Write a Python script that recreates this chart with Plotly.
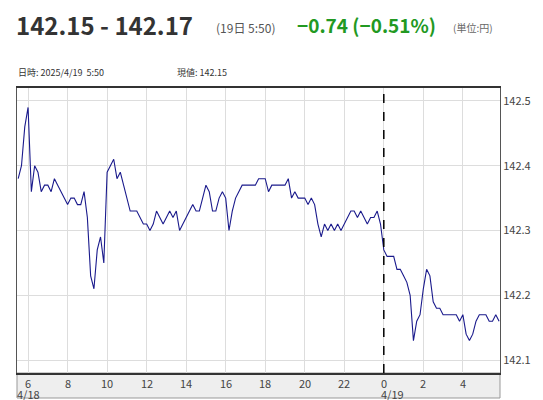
import plotly.graph_objects as go

start_hour = 5.5
step_hours = 1/6
prices = [
142.38,142.40,142.46,142.49,142.36,142.40,142.39,142.36,142.37,142.37,142.36,142.38,142.37,142.36,142.35,
142.34,142.35,142.35,142.34,142.34,142.36,142.32,142.23,142.21,142.27,142.29,142.25,
142.39,142.40,142.41,142.38,142.39,142.37,142.35,142.33,142.33,142.33,142.32,142.31,
142.31,142.30,142.31,142.33,142.32,142.31,142.32,142.33,142.32,142.33,142.30,142.31,
142.32,142.33,142.34,142.33,142.33,142.35,142.37,142.36,142.33,142.33,142.35,142.36,
142.35,142.30,142.33,142.35,142.36,142.37,142.37,142.37,142.37,142.37,142.38,142.38,
142.38,142.36,142.37,142.37,142.37,142.37,142.37,142.38,142.35,142.36,142.35,142.35,
142.35,142.34,142.35,142.34,142.31,142.29,142.31,142.30,142.31,142.30,142.31,142.30,
142.31,142.32,142.33,142.33,142.32,142.33,142.32,142.31,142.32,142.32,142.33,142.31,
142.27,142.26,142.26,142.26,142.24,142.24,142.23,142.22,142.20,142.13,142.16,142.17,
142.21,142.24,142.23,142.19,142.18,142.18,142.17,142.17,142.17,142.17,142.17,142.16,
142.17,142.14,142.13,142.14,142.16,142.17,142.17,142.17,142.16,142.16,142.17,142.16]
hours = [start_hour + i*step_hours for i in range(len(prices))]

tick_vals = [6, 8, 10, 12, 14, 16, 18, 20, 22, 24, 26, 28]
tick_text = ["6", "8", "10", "12", "14", "16", "18", "20", "22", "0", "2", "4"]
date_vals = [6, 24.45]
date_text = ["4/18", "4/19"]
y_ticks = [142.1, 142.2, 142.3, 142.4, 142.5]

font = "Noto Sans CJK JP"
fig = go.Figure(go.Scatter(x=hours, y=prices, mode="lines",
                           line=dict(color="#1a1a8c", width=1.1), hoverinfo="skip"))

pw, ph = 543 - 9 - 51, 400 - 80 - 35
def px(x): return (x - 9) / pw
def py(y): return (365 - y) / ph

fig.update_layout(
    width=543, height=400, margin=dict(l=9, r=51, t=80, b=35),
    plot_bgcolor="white", paper_bgcolor="white", showlegend=False,
    font=dict(family=font, size=11, color="#333"),
    xaxis=dict(range=[5.44, 29.88], tickvals=tick_vals, showticklabels=False,
               showgrid=True, gridcolor="#dddddd", zeroline=False,
               showline=True, linecolor="#333", linewidth=1.5, mirror=True, ticks=""),
    yaxis=dict(range=[142.08, 142.52], tickvals=y_ticks, side="right",
               tickformat=".1f", showgrid=True, gridcolor="#dddddd", zeroline=False,
               showline=True, linecolor="#555", linewidth=1, mirror=True,
               ticks="", tickfont=dict(size=11, color="#444")),
    shapes=[
        dict(type="rect", xref="paper", yref="paper", x0=0, x1=1, y0=py(390), y1=0,
             fillcolor="#eeeeee", line=dict(color="#999", width=1), layer="below"),
        dict(type="line", xref="x", yref="paper", x0=24, x1=24, y0=0, y1=1,
             line=dict(color="black", width=1.5, dash="dash")),
    ],
)
header = [
    ("<b>142.15 - 142.17</b>", 6, 17, 24, "#333"),
    ("(19日 5:50)", 206, 19, 12, "#555"),
    ("<b>−0.74 (−0.51%)</b>", 287, 17, 19, "#229922"),
    ("(単位:円)", 443, 19, 10, "#666"),
    ("日時: 2025/4/19  5:50", 8, 64, 9, "#333"),
    ("現値: 142.15", 167, 64, 9, "#333"),
]
for t, x, y, s, c in header:
    fig.add_annotation(text=t, x=px(x), y=py(y), xref="paper", yref="paper", showarrow=False,
                       xanchor="left", yanchor="middle", font=dict(size=s, color=c, family=font))
for v, t in zip(tick_vals, tick_text):
    fig.add_annotation(text=t, x=v, xref="x", y=py(375), yref="paper", showarrow=False,
                       yanchor="middle", font=dict(size=11, color="#444"))
for v, t in zip(date_vals, date_text):
    fig.add_annotation(text=t, x=v, xref="x", y=py(386), yref="paper", showarrow=False,
                       yanchor="middle", font=dict(size=11, color="#444"))
fig.write_html("out.html")
